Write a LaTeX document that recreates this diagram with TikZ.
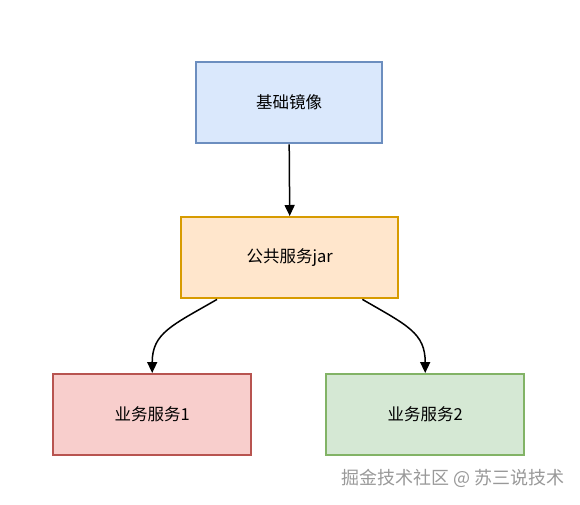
\documentclass[tikz,border=0pt]{standalone}
\usepackage{fontspec}
\newfontfamily\cjk{Noto Sans CJK SC}
\usetikzlibrary{arrows.meta}
\definecolor{bfill}{HTML}{DAE8FC}\definecolor{bline}{HTML}{6C8EBF}
\definecolor{ofill}{HTML}{FFE6CC}\definecolor{oline}{HTML}{D79B00}
\definecolor{rfill}{HTML}{F8CECC}\definecolor{rline}{HTML}{B85450}
\definecolor{gfill}{HTML}{D5E8D4}\definecolor{gline}{HTML}{82B366}
\tikzset{
  box/.style={draw, line width=2.4pt, anchor=north west, inner sep=0pt, font=\cjk\fontsize{16.5}{19}\selectfont, text=black},
  arr/.style={line width=1.5pt, -{Triangle[width=10pt,length=11pt]}}
}
\begin{document}
\begin{tikzpicture}[x=1pt,y=-1pt]
\useasboundingbox[fill=white] (0,0) rectangle (580,504);
\node[box, fill=bfill, draw=bline, minimum width=186pt, minimum height=81pt] (b) at (195,61) {基础镜像};
\node[box, fill=ofill, draw=oline, minimum width=217pt, minimum height=81pt] (o) at (180,216) {公共服务jar};
\node[box, fill=rfill, draw=rline, minimum width=198pt, minimum height=81pt] (r) at (52,373) {业务服务1};
\node[box, fill=gfill, draw=gline, minimum width=198pt, minimum height=81pt] (g) at (325,373) {业务服务2};
\draw[arr] (b.south) -- (o.north);
\draw[arr] ([xshift=37pt]o.south west) .. controls ++(-45,26) and ++(0,-40) .. (r.north);
\draw[arr] ([xshift=-37pt]o.south east) .. controls ++(45,26) and ++(0,-40) .. (g.north);
\node[font=\cjk\fontsize{18}{21}\selectfont, text=black!40, anchor=east] (w) at (568,478) {掘金技术社区 @ 苏三说技术};
\end{tikzpicture}
\end{document}
